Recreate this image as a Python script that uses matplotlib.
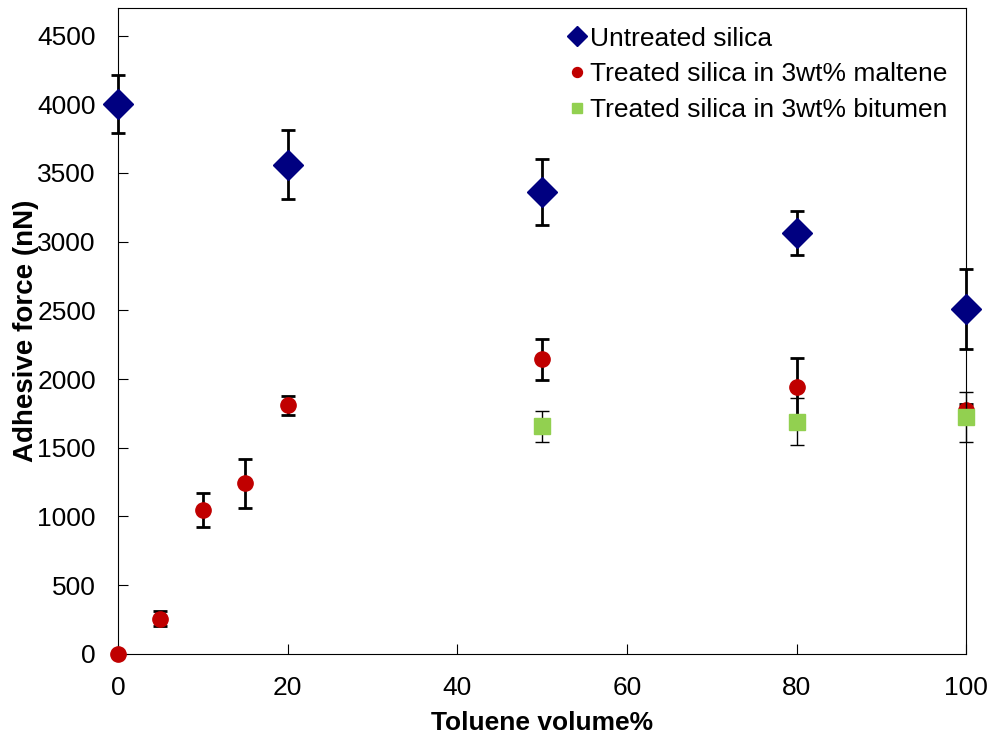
import numpy as np
import matplotlib.pyplot as plt

plt.rcParams['font.family'] = ['Liberation Sans', 'DejaVu Sans']

# untreated silica
x_untreated = [0, 20, 50, 80, 100]
y_untreated = [4000, 3560, 3360, 3060, 2510]
e_untreated = [210, 250, 240, 160, 290]

# treated silica in 3wt% maltene
x_maltene = [0, 5, 10, 15, 20, 50, 80, 100]
y_maltene = [0, 255, 1045, 1240, 1810, 2145, 1945, 1775]
e_maltene = [0, 55, 125, 180, 70, 150, 205, 40]

# treated silica in 3wt% bitumen
x_bitumen = [50, 80, 100]
y_bitumen = [1655, 1690, 1725]
e_bitumen = [110, 170, 180]

fig, ax = plt.subplots(figsize=(9.92, 7.38), dpi=100)

ax.errorbar(x_untreated, y_untreated, yerr=e_untreated, fmt='D', color='#000080',
            ms=15, ecolor='black', elinewidth=2, capsize=5, capthick=2,
            label='Untreated silica', zorder=3, clip_on=False)
ax.errorbar(x_maltene, y_maltene, yerr=e_maltene, fmt='o', color='#C00000',
            ms=11, ecolor='black', elinewidth=2, capsize=5, capthick=2,
            label='Treated silica in 3wt% maltene', zorder=4, clip_on=False)
ax.errorbar(x_bitumen, y_bitumen, yerr=e_bitumen, fmt='s', color='#92D050',
            ms=12, ecolor='black', elinewidth=1, capsize=5, capthick=1,
            label='Treated silica in 3wt% bitumen', zorder=5, clip_on=False)

ax.set_xlim(0, 100)
ax.set_ylim(0, 4700)
ax.set_xticks(np.arange(0, 101, 20))
ax.set_yticks(np.arange(0, 4501, 500))
ax.tick_params(direction='in', labelsize=19, length=7)
ax.tick_params(axis='x', pad=16)
ax.tick_params(axis='y', pad=16)
ax.set_xlabel('Toluene volume%', fontsize=19, fontweight='bold', labelpad=8)
ax.set_ylabel('Adhesive force (nN)', fontsize=20, fontweight='bold', labelpad=-1)

# legend without error bars
handles, labels = ax.get_legend_handles_labels()
handles = [h[0] for h in handles]
ax.legend(handles, labels, loc='upper right', frameon=False, fontsize=19,
          markerscale=0.65, handletextpad=0.05, handlelength=0.9, labelspacing=0.45,
          borderaxespad=0.3, bbox_to_anchor=(1.0, 1.0))

fig.subplots_adjust(left=0.119, right=0.974, top=0.989, bottom=0.114)
fig.savefig('out.png')
